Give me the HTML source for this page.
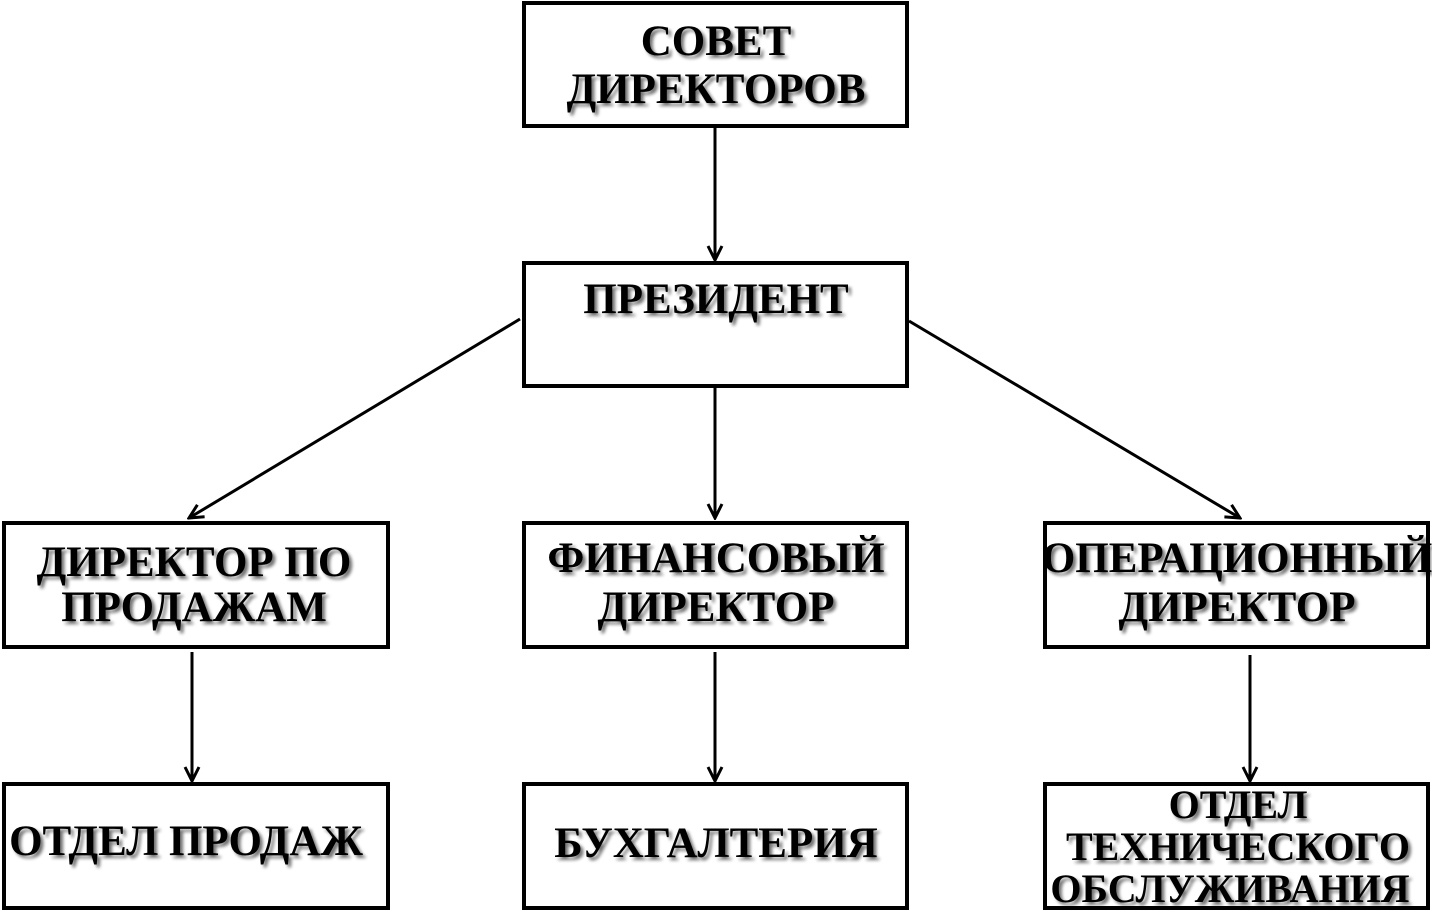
<!DOCTYPE html>
<html><head><meta charset="utf-8"><style>
html,body{margin:0;padding:0;background:#fff;}
svg{display:block}
text{font-family:"Liberation Serif","DejaVu Serif",serif;font-weight:bold;font-size:43px;text-anchor:middle;fill:#000;}
text.s{font-size:40px;}
</style></head><body>
<svg width="1432" height="910" viewBox="0 0 1432 910" xmlns="http://www.w3.org/2000/svg">
<defs>
<filter id="sh" x="-10%" y="-30%" width="120%" height="160%">
<feGaussianBlur in="SourceAlpha" stdDeviation="1.5"/>
<feOffset dx="3" dy="3" result="b"/>
<feComponentTransfer><feFuncA type="linear" slope="0.55"/></feComponentTransfer>
<feMerge><feMergeNode/><feMergeNode in="SourceGraphic"/></feMerge>
</filter>
<marker id="ar" viewBox="0 0 20 20" refX="18" refY="10" markerWidth="20" markerHeight="20" markerUnits="userSpaceOnUse" orient="auto">
<path d="M4,3 L18,10 L4,17" fill="none" stroke="#000" stroke-width="3"/>
</marker>
</defs>
<g fill="none" stroke="#000" stroke-width="4">
<rect x="524" y="3" width="383" height="123"/>
<rect x="524" y="263" width="383" height="123"/>
<rect x="4" y="523" width="384" height="124"/>
<rect x="524" y="523" width="383" height="124"/>
<rect x="1045" y="523" width="383" height="124"/>
<rect x="4" y="784" width="384" height="124"/>
<rect x="524" y="784" width="383" height="124"/>
<rect x="1045" y="784" width="383" height="124"/>
</g>
<g stroke="#000" stroke-width="3" marker-end="url(#ar)">
<line x1="715" y1="128" x2="715" y2="260"/>
<line x1="520" y1="319" x2="189" y2="518"/>
<line x1="715" y1="387" x2="715" y2="518"/>
<line x1="909" y1="321" x2="1240" y2="518"/>
<line x1="192" y1="652" x2="192" y2="781"/>
<line x1="715" y1="652" x2="715" y2="781"/>
<line x1="1250" y1="655" x2="1250" y2="781"/>
</g>
<g filter="url(#sh)">
<text x="716" y="55">СОВЕТ</text>
<text x="716" y="103">ДИРЕКТОРОВ</text>
<text x="716" y="313">ПРЕЗИДЕНТ</text>
<text x="194" y="576">ДИРЕКТОР ПО</text>
<text x="194" y="621">ПРОДАЖАМ</text>
<text x="716" y="572">ФИНАНСОВЫЙ</text>
<text x="716" y="621">ДИРЕКТОР</text>
<text x="1237" y="572">ОПЕРАЦИОННЫЙ</text>
<text x="1237" y="621">ДИРЕКТОР</text>
<text x="186" y="855">ОТДЕЛ ПРОДАЖ</text>
<text x="716" y="857">БУХГАЛТЕРИЯ</text>
<text class="s" x="1238" y="818">ОТДЕЛ</text>
<text class="s" x="1238" y="860">ТЕХНИЧЕСКОГО</text>
<text class="s" x="1230" y="902">ОБСЛУЖИВАНИЯ</text>
</g>
</svg>
</body></html>
